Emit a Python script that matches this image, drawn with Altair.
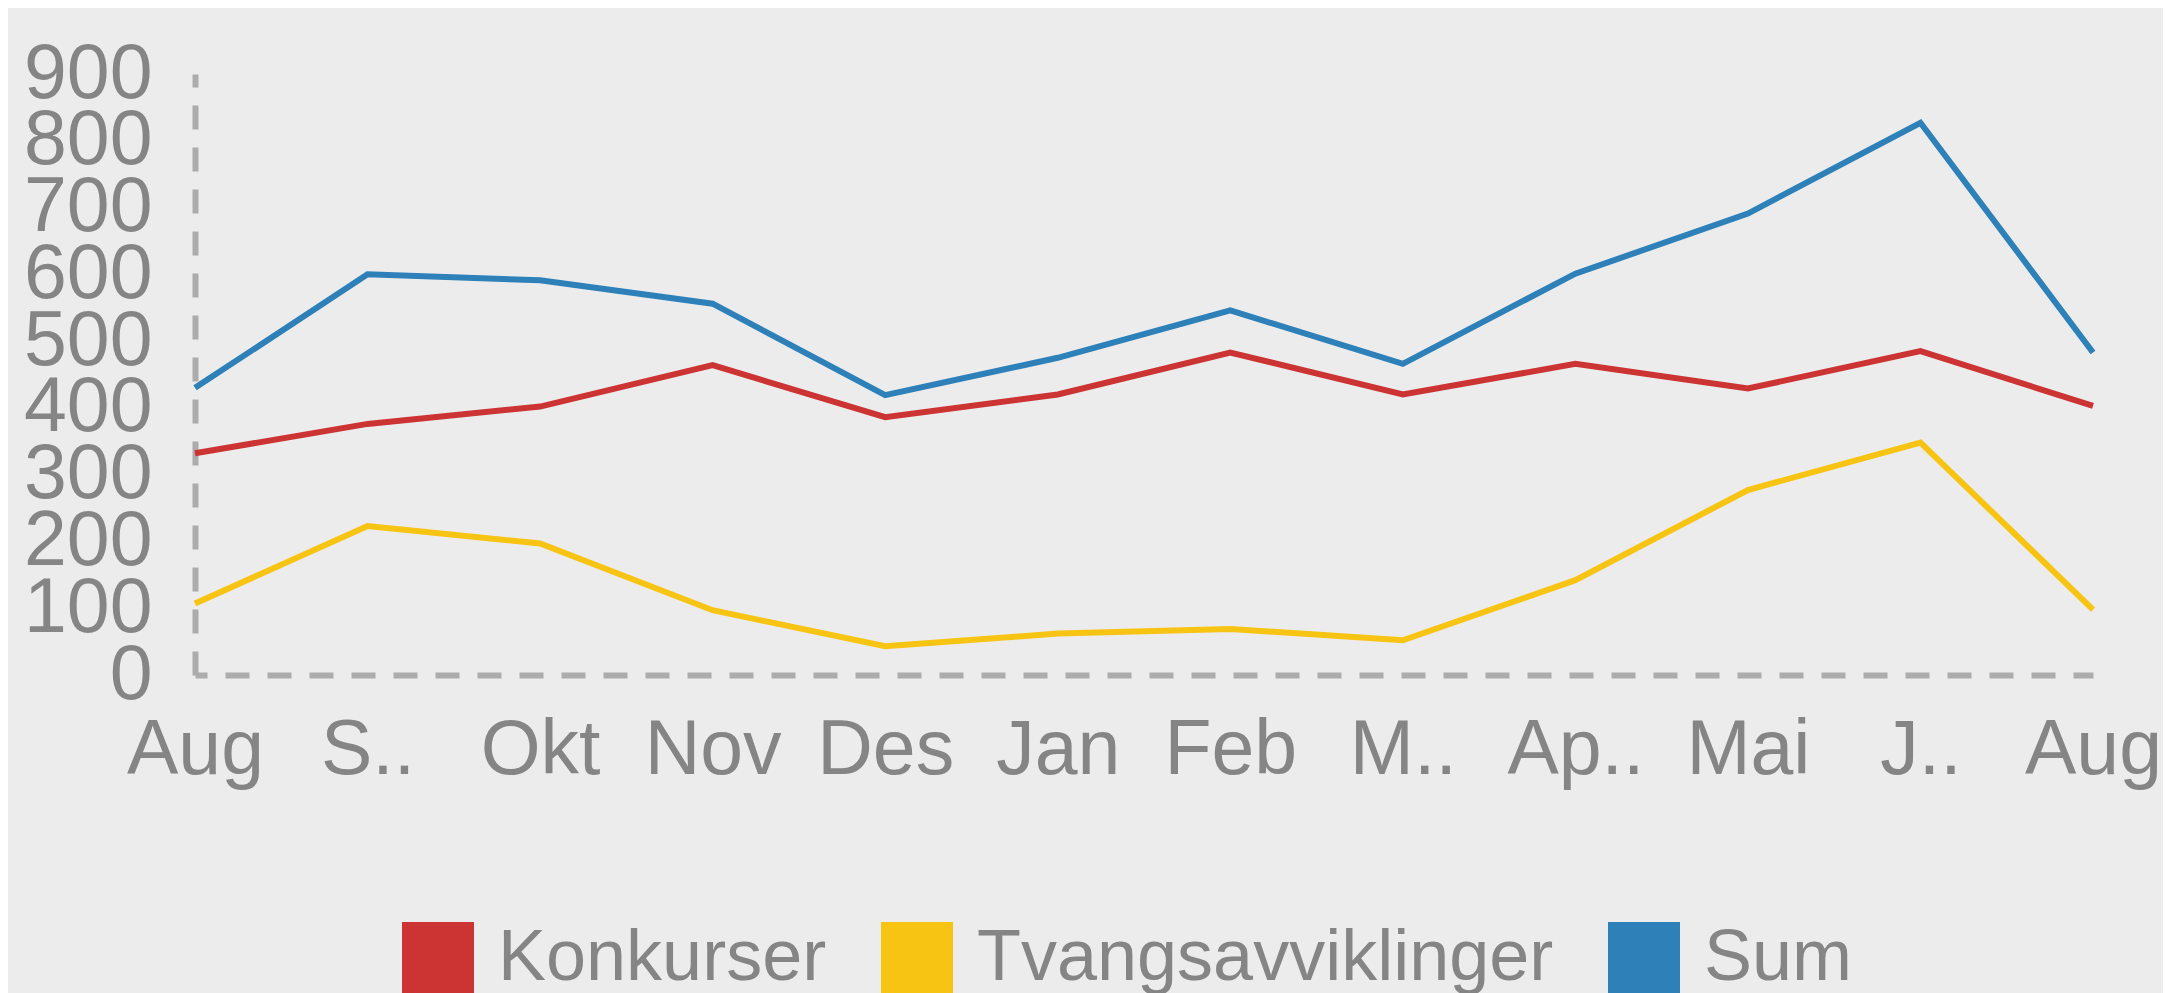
import json
import altair as alt
import pandas as pd

# ---- data ----
tick_labels = ["Aug", "S..", "Okt", "Nov", "Des", "Jan", "Feb", "M..", "Ap..", "Mai", "J..", "Aug"]
konkurser = [332, 376, 402, 464, 386, 420, 483, 420, 466, 429, 485, 403]
tvangsavviklinger = [107, 223, 197, 97, 43, 62, 69, 52, 142, 277, 348, 98]
sum_values = [430, 600, 591, 556, 419, 475, 546, 466, 601, 691, 827, 483]
series_names = ["Konkurser", "Tvangsavviklinger", "Sum"]
series_colors = ["#cc3333", "#f8c413", "#2e80b9"]
y_ticks = [0, 100, 200, 300, 400, 500, 600, 700, 800, 900]

rows = []
for name, vals in zip(series_names, [konkurser, tvangsavviklinger, sum_values]):
    for i, v in enumerate(vals):
        rows.append({"idx": i, "serie": name, "value": v})
df = pd.DataFrame(rows)

FONT = "Liberation Sans"
TEXT = "#858585"
AXIS = "#acacac"

label_expr = json.dumps(tick_labels) + "[datum.value]"

chart = alt.Chart(df).mark_line(strokeWidth=6).encode(
    x=alt.X(
        "idx:O",
        scale=alt.Scale(type="point", padding=0),
        axis=alt.Axis(
            title=None, labelExpr=label_expr, labelAngle=0, labelFont=FONT,
            labelFontSize=77, labelColor=TEXT, labelPadding=37, ticks=False,
            tickSize=0, grid=False, domainColor=AXIS, domainWidth=6,
            domainDash=[24, 18], domainDashOffset=12, labelOverlap=False,
            labelFlush=False,
        ),
    ),
    y=alt.Y(
        "value:Q",
        scale=alt.Scale(domain=[0, 900], nice=False, zero=True),
        axis=alt.Axis(
            title=None, values=y_ticks, labelFont=FONT, labelFontSize=77,
            labelColor=TEXT, labelPadding=43, ticks=False, tickSize=0,
            grid=False, domainColor=AXIS, domainWidth=6, domainDash=[24, 18],
            labelOverlap=False, labelFlush=False,
        ),
    ),
    color=alt.Color(
        "serie:N",
        sort=series_names,
        scale=alt.Scale(domain=series_names, range=series_colors),
        legend=alt.Legend(
            title=None, orient="none", legendX=207, legendY=848,
            direction="horizontal", symbolType="square", symbolSize=1296,
            symbolStrokeWidth=36, labelFont=FONT, labelFontSize=72,
            labelColor=TEXT, labelOffset=24, columnPadding=0, padding=0,
            labelLimit=1000,
        ),
    ),
).properties(
    width=1898,
    height=601,
    autosize=alt.AutoSizeParams(type="none"),
    padding={"left": 187, "top": 66, "right": 70, "bottom": 318},
    background="#ececec",
).configure_view(stroke=None)

chart.save("out.html", embed_options={"renderer": "svg", "actions": False})
